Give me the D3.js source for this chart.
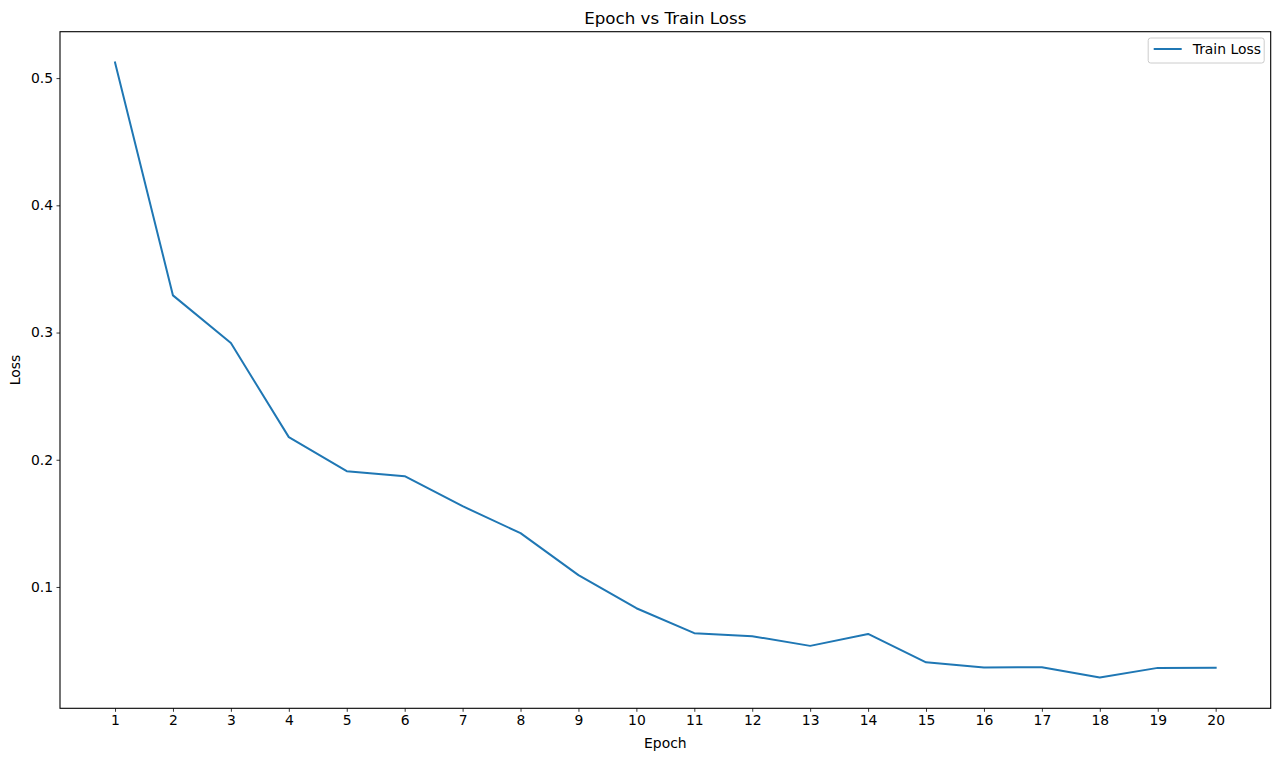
<!DOCTYPE html>
<html>
<head>
<meta charset="utf-8">
<title>Epoch vs Train Loss</title>
<script src="https://d3js.org/d3.v7.min.js"></script>
<style>
  body { margin: 0; background: #fff; }
  text { font-family: "DejaVu Sans", sans-serif; fill: #000; }
</style>
</head>
<body>
<script>
// data
var epochs = [1, 2, 3, 4, 5, 6, 7, 8, 9, 10, 11, 12, 13, 14, 15, 16, 17, 18, 19, 20];
var trainLoss = [0.5123, 0.3292, 0.2917, 0.2178, 0.1910, 0.1871, 0.1635, 0.1423, 0.1093, 0.0833,
                 0.0637, 0.0613, 0.0537, 0.0631, 0.0408, 0.0367, 0.0369, 0.0288, 0.0364, 0.0365];
var yTicks = [0.1, 0.2, 0.3, 0.4, 0.5];

var W = 1280, H = 760;
var m = { left: 60, right: 9.3, top: 31.7, bottom: 51.7 };
var pw = W - m.left - m.right, ph = H - m.top - m.bottom;

var svg = d3.select("body").append("svg")
  .attr("width", W).attr("height", H);

// matplotlib-style 5% margins
var xMin = d3.min(epochs), xMax = d3.max(epochs);
var xPad = (xMax - xMin) * 0.05;
var yMin = d3.min(trainLoss), yMax = d3.max(trainLoss);
var yPad = (yMax - yMin) * 0.05;

var x = d3.scaleLinear().domain([xMin - xPad, xMax + xPad]).range([0, pw]);
var y = d3.scaleLinear().domain([yMin - yPad, yMax + yPad]).range([ph, 0]);

var g = svg.append("g").attr("transform", "translate(" + m.left + "," + m.top + ")");

// axes
var xAxis = g.append("g")
  .attr("transform", "translate(0," + ph + ")")
  .call(d3.axisBottom(x).tickValues(epochs).tickFormat(d3.format("d")).tickSize(3.5).tickPadding(3.5));
var yAxis = g.append("g")
  .call(d3.axisLeft(y).tickValues(yTicks).tickFormat(d3.format(".1f")).tickSize(3.5).tickPadding(3.5));

[xAxis, yAxis].forEach(function (a) {
  a.select(".domain").remove();
  a.selectAll("line").attr("stroke", "#000").attr("stroke-width", 0.8);
  a.selectAll("text").style("font-family", "DejaVu Sans").attr("font-size", 13.9).attr("fill", "#000");
});

// frame
g.append("rect")
  .attr("width", pw).attr("height", ph)
  .attr("fill", "none").attr("stroke", "#000").attr("stroke-width", 1.1);

// line
var line = d3.line()
  .x(function (d, i) { return x(epochs[i]); })
  .y(function (d) { return y(d); });

g.append("path")
  .datum(trainLoss)
  .attr("d", line)
  .attr("fill", "none")
  .attr("stroke", "#1f77b4")
  .attr("stroke-width", 2)
  .attr("stroke-linejoin", "round")
  .attr("stroke-linecap", "square");

// titles
svg.append("text")
  .attr("x", m.left + pw / 2).attr("y", m.top - 8)
  .attr("text-anchor", "middle").attr("font-size", 16.7)
  .text("Epoch vs Train Loss");

svg.append("text")
  .attr("x", m.left + pw / 2).attr("y", H - 12)
  .attr("text-anchor", "middle").attr("font-size", 13.9)
  .text("Epoch");

svg.append("text")
  .attr("transform", "translate(20," + (m.top + ph / 2) + ") rotate(-90)")
  .attr("text-anchor", "middle").attr("font-size", 13.9)
  .text("Loss");

// legend
var leg = g.append("g").attr("transform", "translate(" + (pw - 122.5) + ",6.3)");
leg.append("rect")
  .attr("width", 116).attr("height", 25).attr("rx", 2.5)
  .attr("fill", "#fff").attr("fill-opacity", 0.8)
  .attr("stroke", "#ccc").attr("stroke-width", 1);
leg.append("line")
  .attr("x1", 5.5).attr("x2", 33.5).attr("y1", 11).attr("y2", 11)
  .attr("stroke", "#1f77b4").attr("stroke-width", 2);
leg.append("text")
  .attr("x", 44.5).attr("y", 16)
  .attr("font-size", 13.9)
  .text("Train Loss");
</script>
</body>
</html>
